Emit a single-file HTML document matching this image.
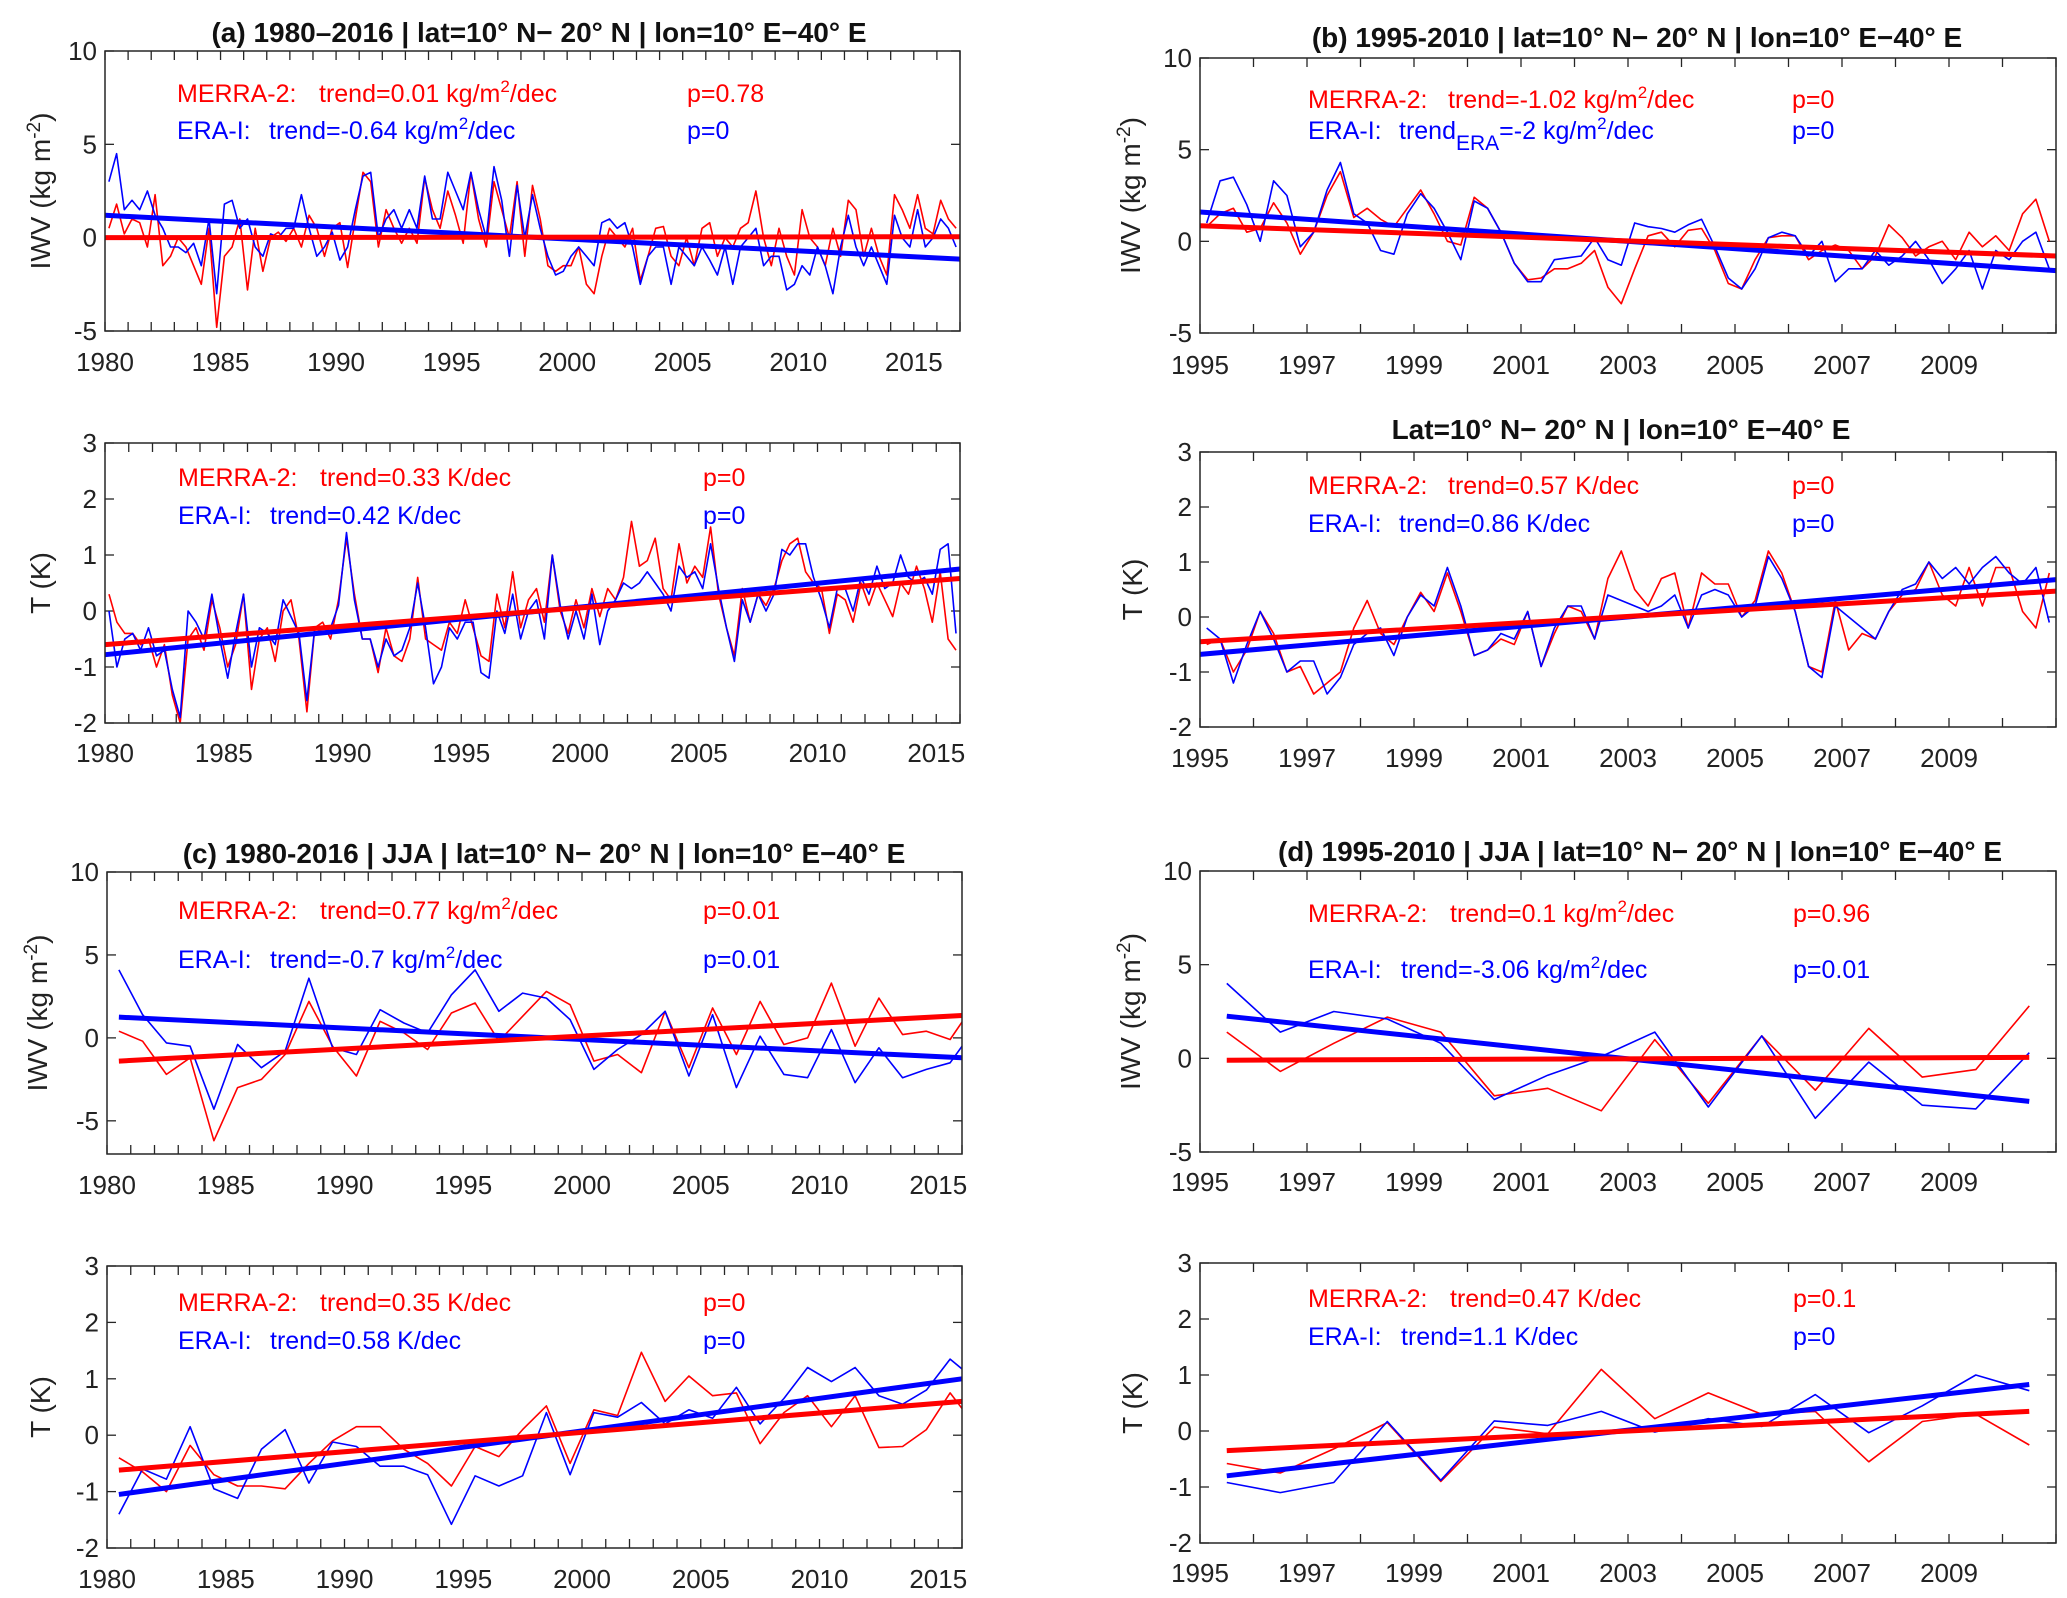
<!DOCTYPE html>
<html><head><meta charset="utf-8">
<style>
html,body{margin:0;padding:0;background:#fff;}
svg{display:block;}
text{font-family:"Liberation Sans",Arial,sans-serif;}
</style></head>
<body>
<svg id="fig" width="2067" height="1598" viewBox="0 0 2067 1598" xmlns="http://www.w3.org/2000/svg"></svg>
<script>
// ---------- DATA ----------
// Panel a IWV (3 samples / year, 1980-2016)
const aIwvRed = [0.5,1.8,0.2, 1.0,0.8,-0.5, 2.3,-1.5,-1.0, 0,-0.5,-1.5, -2.5,0.5,-4.8, -1.0,-0.5,1.0, -2.8,0.5,-1.8, 0,0.3,-0.2, 0.5,-0.5,1.2, 0.5,-1.0,0.5, 0.8,-1.6,1.0, 3.5,3.0,-0.5, 1.5,0.5,-0.3, 0.5,-0.3,3.2, 1.5,0.5,2.5, 1.2,-0.3,3.5, 1.0,-0.5,3.0, 1.5,0,3.0, -1.0,2.8,1.0, -1.5,-1.8,-1.5, -1.5,-0.5,-2.5, -3.0,-1.0,0.5, 0,-0.5,0.5, -2.3,-1.0,0.5, 0.6,-1.0,-1.5, 0,-1.5,0.5, 0.8,-1.0,0, -0.5,0.5,0.8, 2.5,0,-1.5, 0.5,-1.0,-2.0, 1.5,0,-0.5, -1.5,0.5,-1.0, 2.0,1.5,-1.0, 0.5,-1.0,-2.0, 2.3,1.5,0.5, 2.3,0.5,0.2, 2.0,1.0,0.5];
const aIwvBlue = [3.0,4.5,1.5, 2.0,1.5,2.5, 1.2,0.5,-0.5, -0.5,-0.8,-0.3, -1.5,1.0,-3.0, 1.8,2.0,0.5, 1.0,-0.5,-1.0, 0.2,0,0.5, 0.5,2.3,0.5, -1.0,-0.5,0.3, -1.2,-0.5,1.5, 3.3,3.5,0, 1.0,1.5,0.5, 1.5,0.5,3.3, 1.0,1.0,3.5, 2.5,1.5,3.5, 1.5,0,3.8, 2.0,-1.0,2.8, 0,2.3,0.5, -1.0,-2.0,-1.8, -1.0,-0.5,-1.0, -1.5,0.8,1.0, 0.5,0.8,-0.5, -2.5,-1.0,-0.5, -0.5,-2.5,-0.5, -1.0,-1.5,-0.5, -1.2,-2.0,-0.5, -2.5,-0.5,0, 0.5,-1.5,-1.0, -1.0,-2.8,-2.5, -1.5,-2.0,-0.5, -1.5,-3.0,-0.5, 1.2,-0.5,-1.5, -0.5,-1.5,-2.5, 1.2,0,-0.5, 1.5,-0.5,0, 1.0,0.5,-0.5];
// Panel a T (3 samples / year, 1980-2015)
const aTRed = [0.3,-0.2,-0.4, -0.4,-0.6,-0.5, -1.0,-0.6,-1.5, -2.0,-0.5,-0.3, -0.7,0.2,-0.3, -1.0,-0.6,0.3, -1.4,-0.5,-0.3, -0.9,0,0.2, -0.5,-1.8,-0.3, -0.2,-0.5,0.2, 1.3,0.3,-0.5, -0.5,-1.1,-0.3, -0.8,-0.9,-0.5, 0.6,-0.5,-0.6, -0.7,-0.2,-0.4, 0.2,-0.3,-0.8, -0.9,0.3,-0.3, 0.7,-0.3,0.2, 0.4,-0.2,1.0, 0,-0.4,0.2, -0.3,0.4,-0.1, 0.4,0.2,0.6, 1.6,0.8,0.9, 1.3,0.4,0.2, 1.2,0.5,0.8, 0.6,1.5,0.3, -0.3,-0.8,0.4, -0.2,0.3,0.1, 0.4,0.9,1.2, 1.3,0.7,0.5, 0.4,-0.4,0.3, 0.2,-0.2,0.5, 0.1,0.5,0.2, -0.1,0.5,0.3, 0.8,0.4,-0.2, 0.7,-0.5,-0.7];
const aTBlue = [0,-1.0,-0.5, -0.4,-0.7,-0.3, -0.8,-0.7,-1.4, -1.9,0,-0.2, -0.5,0.3,-0.5, -1.2,-0.4,0.3, -1.0,-0.3,-0.4, -0.6,0.2,-0.1, -0.4,-1.6,-0.3, -0.4,-0.3,0.1, 1.4,0.2,-0.5, -0.5,-1.0,-0.5, -0.8,-0.7,-0.3, 0.5,-0.3,-1.3, -1.0,-0.3,-0.5, -0.2,-0.2,-1.1, -1.2,0,-0.4, 0.3,-0.5,0, 0.2,-0.5,1.0, 0.1,-0.5,0, -0.5,0.3,-0.6, 0,0.2,0.5, 0.4,0.5,0.7, 0.5,0.3,0, 0.8,0.6,0.7, 0.4,1.2,0.4, -0.3,-0.9,0.2, -0.2,0.3,0, 0.3,1.1,1.0, 1.2,1.2,0.6, 0.2,-0.3,0.4, 0.4,0,0.6, 0.3,0.8,0.4, 0.5,1.0,0.6, 0.5,0.6,0.3, 1.1,1.2,-0.4];
// Panel b IWV (4 samples / year, 1995-2010)
const bIwvRed = [0.8,1.5,1.8,0.5, 0.7,2.1,1.0,-0.7, 0.5,2.5,3.8,1.3, 1.8,1.2,0.8,1.8, 2.8,1.5,0,-0.2, 2.4,1.8,0.5,-1.2, -2.1,-2.0,-1.5,-1.5, -1.2,-0.5,-2.5,-3.4, -1.5,0.3,0.5,-0.3, 0.6,0.7,-0.5,-2.3, -2.6,-1.0,0.2,0.3, 0.3,-1.0,-0.5,-0.2, -0.5,-1.5,-0.8,0.9, 0.2,-0.8,-0.3,0, -1.0,0.5,-0.3,0.3, -0.5,1.5,2.3,0];
const bIwvBlue = [1.0,3.3,3.5,2.0, 0.0,3.3,2.5,-0.3, 0.5,2.8,4.3,1.5, 1.0,-0.5,-0.7,1.5, 2.6,1.8,0.5,-1.0, 2.2,1.8,0.5,-1.2, -2.2,-2.2,-1.0,-0.9, -0.8,0.2,-1.0,-1.3, 1.0,0.8,0.7,0.5, 0.9,1.2,-0.3,-2.0, -2.6,-1.5,0.2,0.5, 0.3,-0.8,0,-2.2, -1.5,-1.5,-0.5,-1.3, -0.8,0,-1.0,-2.3, -1.5,-0.5,-2.6,-0.5, -1.0,0,0.5,-1.5];
// Panel b T (4 samples / year, 1995-2010)
const bTRed = [-0.5,-0.4,-1.0,-0.6, 0.1,-0.3,-1.0,-0.9, -1.4,-1.2,-1.0,-0.2, 0.3,-0.3,-0.5,0, 0.45,0.1,0.8,0.1, -0.7,-0.6,-0.4,-0.5, 0.1,-0.9,-0.3,0.2, 0.1,-0.4,0.7,1.2, 0.5,0.2,0.7,0.8, -0.2,0.8,0.6,0.6, 0,0.3,1.2,0.8, 0.1,-0.9,-1.0,0.3, -0.6,-0.3,-0.4,0.1, 0.4,0.5,1.0,0.4, 0.2,0.9,0.2,0.9, 0.9,0.1,-0.2,0.8];
const bTBlue = [-0.2,-0.4,-1.2,-0.5, 0.1,-0.4,-1.0,-0.8, -0.8,-1.4,-1.1,-0.5, -0.3,-0.2,-0.7,0, 0.4,0.2,0.9,0.2, -0.7,-0.6,-0.3,-0.4, 0.1,-0.9,-0.2,0.2, 0.2,-0.4,0.4,0.3, 0.2,0.1,0.2,0.4, -0.2,0.4,0.5,0.4, 0,0.2,1.1,0.7, 0.1,-0.9,-1.1,0.2, 0,-0.2,-0.4,0.1, 0.5,0.6,1.0,0.7, 0.9,0.6,0.9,1.1, 0.8,0.6,0.9,-0.1];
// Panel c (JJA annual, 1980.5-2016.5)
const cIwvRed = [0.4,-0.2,-2.2,-1.2,-6.2,-3.0,-2.5,-1.0,2.2,-0.5,-2.3,1.0,0.3,-0.7,1.5,2.1,-0.2,1.3,2.8,2.0,-1.4,-1.0,-2.1,1.6,-1.8,1.8,-1.0,2.2,-0.4,0,3.3,-0.5,2.4,0.2,0.4,-0.1,2.0];
const cIwvBlue = [4.1,1.4,-0.3,-0.5,-4.3,-0.4,-1.8,-0.8,3.6,-0.6,-1.0,1.7,0.9,0.3,2.6,4.1,1.6,2.7,2.4,1.1,-1.9,-0.7,0.2,1.6,-2.3,1.4,-3.0,0.1,-2.2,-2.4,0.5,-2.7,-0.6,-2.4,-1.9,-1.5,0.5];
const cTRed = [-0.4,-0.65,-1.0,-0.18,-0.7,-0.9,-0.9,-0.95,-0.5,-0.1,0.15,0.15,-0.25,-0.5,-0.9,-0.2,-0.38,0.1,0.52,-0.5,0.45,0.35,1.47,0.6,1.05,0.7,0.75,-0.15,0.4,0.7,0.15,0.7,-0.22,-0.2,0.1,0.75,0.2];
const cTBlue = [-1.4,-0.6,-0.78,0.15,-0.95,-1.12,-0.25,0.1,-0.85,-0.12,-0.2,-0.55,-0.55,-0.7,-1.58,-0.72,-0.9,-0.72,0.4,-0.7,0.4,0.32,0.58,0.2,0.45,0.3,0.85,0.2,0.65,1.2,0.95,1.2,0.7,0.55,0.8,1.35,1.0];
// Panel d (JJA annual, 1995.5-2010.5)
const dIwvRed = [1.4,-0.7,0.8,2.2,1.4,-2.0,-1.6,-2.8,1.0,-2.4,1.2,-1.7,1.6,-1.0,-0.6,2.8];
const dIwvBlue = [4.0,1.4,2.5,2.1,0.8,-2.2,-0.9,0.1,1.4,-2.6,1.2,-3.2,-0.2,-2.5,-2.7,0.3];
const dTRed = [-0.58,-0.75,-0.32,0.15,-0.9,0.07,-0.05,1.1,0.22,0.68,0.3,0.35,-0.55,0.17,0.3,-0.25];
const dTBlue = [-0.92,-1.1,-0.92,0.17,-0.88,0.18,0.1,0.35,-0.02,0.22,0.08,0.65,-0.03,0.45,1.0,0.72];
// Trend line endpoints [start value, end value]
const aIwvTrendRed = [0, 0.05], aIwvTrendBlue = [1.2, -1.15];
const aTTrendRed = [-0.6, 0.58], aTTrendBlue = [-0.78, 0.75];
const bIwvTrendRed = [0.85, -0.8], bIwvTrendBlue = [1.6, -1.6];
const bTTrendRed = [-0.45, 0.47], bTTrendBlue = [-0.68, 0.68];
const cIwvTrendRed = [-1.4, 1.35], cIwvTrendBlue = [1.25, -1.2];
const cTTrendRed = [-0.62, 0.6], cTTrendBlue = [-1.05, 1.0];
const dIwvTrendRed = [-0.1, 0.05], dIwvTrendBlue = [2.25, -2.3];
const dTTrendRed = [-0.35, 0.35], dTTrendBlue = [-0.8, 0.83];
// Tick labels
const ticksYearsLong = [1980,1985,1990,1995,2000,2005,2010,2015];
const ticksYearsShort = [1995,1997,1999,2001,2003,2005,2007,2009];
const ticksIwv = [-5,0,5,10];
const ticksT = [-2,-1,0,1,2,3];

// ---------- DRAW ----------
const NS = "http://www.w3.org/2000/svg";
const svg = document.getElementById('fig');
function mk(tag, attrs, parent){ const e=document.createElementNS(NS,tag); for(const k in attrs) e.setAttribute(k,attrs[k]); (parent||svg).appendChild(e); return e; }
const RED="#ff0000", BLUE="#0000ff", AX="#262626";
const TICKFS = 26, ANNFS = 25, YLFS = 28, TITLEFS = 28;

function panel(o){
  const g = mk('g',{});
  
  
  const clipId = o.name+'-clip';
  const cp = mk('clipPath',{id:clipId},g); mk('rect',{x:o.x0,y:o.y0,width:o.x1-o.x0,height:o.y1-o.y0},cp);
  const xs = t => o.x0 + (t-o.xmin)/(o.xmax-o.xmin)*(o.x1-o.x0);
  const ys = v => o.y1 - (v-o.ymin)/(o.ymax-o.ymin)*(o.y1-o.y0);
  for(let yr=Math.ceil(o.xmin); yr<=o.xmax; yr+=1){
    const t = mk('line',{x1:xs(yr),x2:xs(yr),y1:o.y1,y2:o.y1-9,stroke:AX,'stroke-width':1.3},g);
    
    
    mk('line',{x1:xs(yr),x2:xs(yr),y1:o.y0,y2:o.y0+9,stroke:AX,'stroke-width':1.3},g);
  }
  o.yticks.forEach(v=>{
    mk('line',{x1:o.x0,x2:o.x0+9,y1:ys(v),y2:ys(v),stroke:AX,'stroke-width':1.3},g);
    mk('line',{x1:o.x1,x2:o.x1-9,y1:ys(v),y2:ys(v),stroke:AX,'stroke-width':1.3},g);
    const tx = mk('text',{x:o.x0-8,y:ys(v)+9,'text-anchor':'end','font-size':TICKFS,fill:'#222'},g);
    tx.textContent = v;
    
    
  });
  o.xticks.forEach(v=>{
    const tx = mk('text',{x:xs(v),y:o.xlabY,'text-anchor':'middle','font-size':TICKFS,fill:'#222'},g);
    tx.textContent = v;
    
    
  });
  const series = [[o.red,RED,'merra2-series'],[o.blue,BLUE,'era-i-series']];
  series.forEach(([arr,col,nm])=>{
    const pts = arr.map((v,i)=> xs(o.tStart + (i+o.off)/o.per).toFixed(1)+','+ys(v).toFixed(1)).join(' ');
    const p = mk('polyline',{points:pts,fill:'none',stroke:col,'stroke-width':1.6,'stroke-linejoin':'round','clip-path':'url(#'+clipId+')'},g);
    
    
  });
  const trends = [[o.trBlue,BLUE,'era-i-trend-line'],[o.trRed,RED,'merra2-trend-line']];
  trends.forEach(([tr,col,nm])=>{
    const l = mk('line',{x1:xs(o.trX[0]),x2:xs(o.trX[1]),y1:ys(tr[0]),y2:ys(tr[1]),stroke:col,'stroke-width':5},g);
    
    
  });
  const fr = mk('rect',{x:o.x0,y:o.y0,width:o.x1-o.x0,height:o.y1-o.y0,fill:'none',stroke:AX,'stroke-width':1.5},g);
  
  
  const cy=(o.y0+o.y1)/2;
  const yl = mk('text',{x:o.ylx,y:cy,'text-anchor':'middle','font-size':YLFS,fill:'#222',transform:'rotate(-90 '+o.ylx+' '+cy+')'},g);
  
  
  if(o.iwv){ yl.innerHTML = 'IWV (kg m<tspan dy="-10" font-size="19">-2</tspan><tspan dy="10">)</tspan>'; }
  else yl.textContent = 'T (K)';
  function ann(y, col, lab, labX, trX, trHtml, pX, pTxt, nm){
    const a = mk('text',{x:labX,y:y,'font-size':ANNFS,fill:col},g); a.textContent=lab;
    
    
    const b = mk('text',{x:trX,y:y,'font-size':ANNFS,fill:col},g); b.innerHTML=trHtml;
    
    
    const c = mk('text',{x:pX,y:y,'font-size':ANNFS,fill:col},g); c.textContent=pTxt;
    
    
  }
  ann(o.annY[0],RED,'MERRA-2:',o.annX[0],o.annX[1],o.trTxt[0],o.annX[3],o.pTxt[0],'merra2-annotation');
  ann(o.annY[1],BLUE,'ERA-I:',o.annX[0],o.annX[2],o.trTxt[1],o.annX[3],o.pTxt[1],'era-i-annotation');
  if(o.title){
    const t = mk('text',{x:o.titleX,y:o.titleY,'text-anchor':'middle','font-size':TITLEFS,'font-weight':'bold',fill:'#111'},g);
    t.textContent=o.title;
    
    
  }
}
const sup2 = '<tspan dy="-10" font-size="17">2</tspan><tspan dy="10">';
const KG = v => 'trend='+v+' kg/m'+sup2+'/dec</tspan>';
const KD = v => 'trend='+v+' K/dec';

panel({name:'panel-a-iwv',x0:105,x1:960,y0:51,y1:331,xmin:1980,xmax:2017,ymin:-5,ymax:10,yticks:ticksIwv,xticks:ticksYearsLong,xlabY:371,
  red:aIwvRed,blue:aIwvBlue,tStart:1980,per:3,off:0.5,trRed:aIwvTrendRed,trBlue:aIwvTrendBlue,trX:[1980,2017],ylx:50,iwv:true,
  annY:[102,139],annX:[177,319,269,687],trTxt:[KG('0.01'),KG('-0.64')],pTxt:['p=0.78','p=0'],
  title:'(a) 1980\u20132016 | lat=10\u00b0 N\u2212 20\u00b0 N | lon=10\u00b0 E\u221240\u00b0 E',titleX:539,titleY:42});
panel({name:'panel-a-temperature',x0:105,x1:960,y0:443,y1:723,xmin:1980,xmax:2016,ymin:-2,ymax:3,yticks:ticksT,xticks:ticksYearsLong,xlabY:762,
  red:aTRed,blue:aTBlue,tStart:1980,per:3,off:0.5,trRed:aTTrendRed,trBlue:aTTrendBlue,trX:[1980,2016],ylx:50,iwv:false,
  annY:[486,524],annX:[178,320,270,703],trTxt:[KD('0.33'),KD('0.42')],pTxt:['p=0','p=0']});
panel({name:'panel-b-iwv',x0:1200,x1:2056,y0:58,y1:333,xmin:1995,xmax:2011,ymin:-5,ymax:10,yticks:ticksIwv,xticks:ticksYearsShort,xlabY:374,
  red:bIwvRed,blue:bIwvBlue,tStart:1995,per:4,off:0.5,trRed:bIwvTrendRed,trBlue:bIwvTrendBlue,trX:[1995,2011],ylx:1140,iwv:true,
  annY:[108,139],annX:[1308,1448,1399,1792],trTxt:[KG('-1.02'),'trend<tspan dy="11" font-size="21">ERA</tspan><tspan dy="-11">=-2 kg/m</tspan>'+sup2+'/dec</tspan>'],pTxt:['p=0','p=0'],
  title:'(b) 1995-2010 | lat=10\u00b0 N\u2212 20\u00b0 N | lon=10\u00b0 E\u221240\u00b0 E',titleX:1637,titleY:47});
panel({name:'panel-b-temperature',x0:1200,x1:2056,y0:452,y1:727,xmin:1995,xmax:2011,ymin:-2,ymax:3,yticks:ticksT,xticks:ticksYearsShort,xlabY:767,
  red:bTRed,blue:bTBlue,tStart:1995,per:4,off:0.5,trRed:bTTrendRed,trBlue:bTTrendBlue,trX:[1995,2011],ylx:1142,iwv:false,
  annY:[494,532],annX:[1308,1448,1399,1792],trTxt:[KD('0.57'),KD('0.86')],pTxt:['p=0','p=0'],
  title:'Lat=10\u00b0 N\u2212 20\u00b0 N | lon=10\u00b0 E\u221240\u00b0 E',titleX:1621,titleY:439});
panel({name:'panel-c-iwv',x0:107,x1:962,y0:872,y1:1154,xmin:1980,xmax:2016,ymin:-7,ymax:10,yticks:ticksIwv,xticks:ticksYearsLong,xlabY:1194,
  red:cIwvRed,blue:cIwvBlue,tStart:1980,per:1,off:0.5,trRed:cIwvTrendRed,trBlue:cIwvTrendBlue,trX:[1980.5,2016],ylx:47,iwv:true,
  annY:[919,968],annX:[178,320,270,703],trTxt:[KG('0.77'),KG('-0.7')],pTxt:['p=0.01','p=0.01'],
  title:'(c) 1980-2016 | JJA | lat=10\u00b0 N\u2212 20\u00b0 N | lon=10\u00b0 E\u221240\u00b0 E',titleX:544,titleY:863});
panel({name:'panel-c-temperature',x0:107,x1:962,y0:1266,y1:1548,xmin:1980,xmax:2016,ymin:-2,ymax:3,yticks:ticksT,xticks:ticksYearsLong,xlabY:1588,
  red:cTRed,blue:cTBlue,tStart:1980,per:1,off:0.5,trRed:cTTrendRed,trBlue:cTTrendBlue,trX:[1980.5,2016],ylx:50,iwv:false,
  annY:[1311,1349],annX:[178,320,270,703],trTxt:[KD('0.35'),KD('0.58')],pTxt:['p=0','p=0']});
panel({name:'panel-d-iwv',x0:1200,x1:2056,y0:871,y1:1152,xmin:1995,xmax:2011,ymin:-5,ymax:10,yticks:ticksIwv,xticks:ticksYearsShort,xlabY:1191,
  red:dIwvRed,blue:dIwvBlue,tStart:1995,per:1,off:0.5,trRed:dIwvTrendRed,trBlue:dIwvTrendBlue,trX:[1995.5,2010.5],ylx:1140,iwv:true,
  annY:[922,978],annX:[1308,1450,1401,1793],trTxt:[KG('0.1'),KG('-3.06')],pTxt:['p=0.96','p=0.01'],
  title:'(d) 1995-2010 | JJA | lat=10\u00b0 N\u2212 20\u00b0 N | lon=10\u00b0 E\u221240\u00b0 E',titleX:1640,titleY:861});
panel({name:'panel-d-temperature',x0:1200,x1:2056,y0:1263,y1:1543,xmin:1995,xmax:2011,ymin:-2,ymax:3,yticks:ticksT,xticks:ticksYearsShort,xlabY:1582,
  red:dTRed,blue:dTBlue,tStart:1995,per:1,off:0.5,trRed:dTTrendRed,trBlue:dTTrendBlue,trX:[1995.5,2010.5],ylx:1142,iwv:false,
  annY:[1307,1345],annX:[1308,1450,1401,1793],trTxt:[KD('0.47'),KD('1.1')],pTxt:['p=0.1','p=0']});
</script>
</body></html>
